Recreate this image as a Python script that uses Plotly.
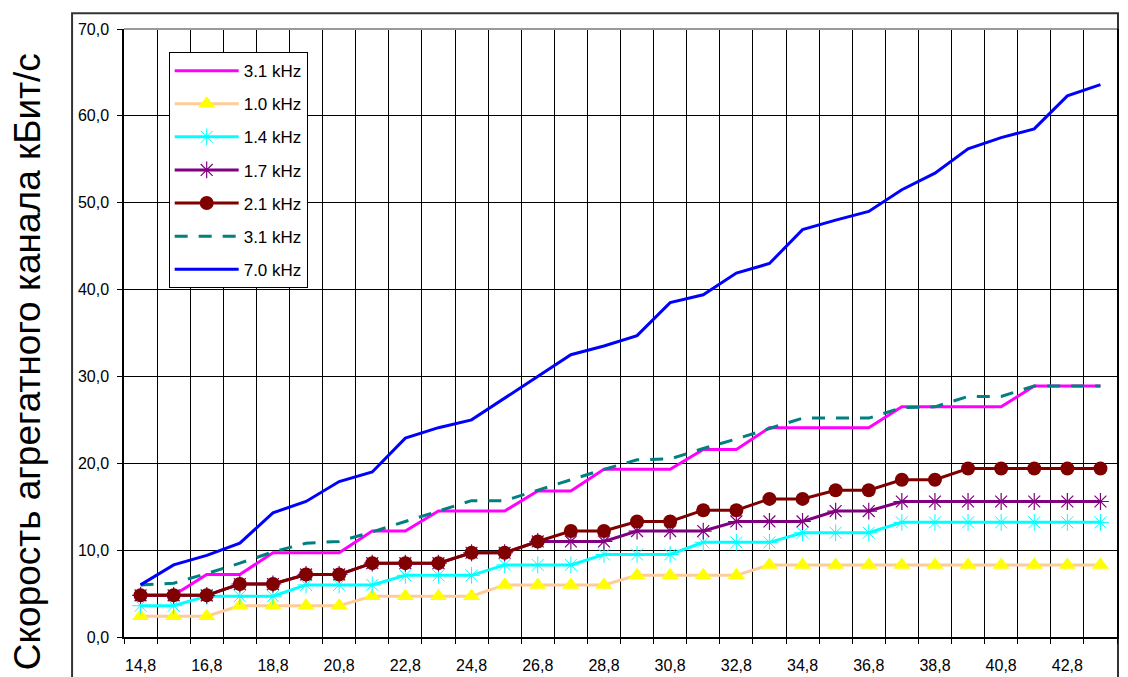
import plotly.graph_objects as go

# Частоты дискретизации (ось X), шаг 1
x_vals = [14.8, 15.8, 16.8, 17.8, 18.8, 19.8, 20.8, 21.8, 22.8, 23.8,
          24.8, 25.8, 26.8, 27.8, 28.8, 29.8, 30.8, 31.8, 32.8, 33.8,
          34.8, 35.8, 36.8, 37.8, 38.8, 39.8, 40.8, 41.8, 42.8, 43.8]

# Скорость агрегатного канала, кБит/с
s_3_1a = [4.8, 4.8, 7.2, 7.2, 9.7, 9.7, 9.7, 12.2, 12.2, 14.5,
          14.5, 14.5, 16.8, 16.8, 19.3, 19.3, 19.3, 21.6, 21.6, 24.1,
          24.1, 24.1, 24.1, 26.5, 26.5, 26.5, 26.5, 28.9, 28.9, 28.9]
s_1_0 = [2.4, 2.4, 2.4, 3.6, 3.6, 3.6, 3.6, 4.7, 4.7, 4.7,
         4.7, 6.0, 6.0, 6.0, 6.0, 7.1, 7.1, 7.1, 7.1, 8.3,
         8.3, 8.3, 8.3, 8.3, 8.3, 8.3, 8.3, 8.3, 8.3, 8.3]
s_1_4 = [3.6, 3.6, 4.7, 4.7, 4.7, 6.0, 6.0, 6.0, 7.1, 7.1,
         7.1, 8.3, 8.3, 8.3, 9.5, 9.5, 9.5, 10.9, 10.9, 10.9,
         12.0, 12.0, 12.0, 13.2, 13.2, 13.2, 13.2, 13.2, 13.2, 13.2]
s_1_7 = [4.8, 4.8, 4.8, 6.1, 6.1, 7.2, 7.2, 8.5, 8.5, 8.5,
         9.7, 9.7, 11.0, 11.0, 11.0, 12.2, 12.2, 12.2, 13.3, 13.3,
         13.3, 14.5, 14.5, 15.6, 15.6, 15.6, 15.6, 15.6, 15.6, 15.6]
s_2_1 = [4.8, 4.8, 4.8, 6.1, 6.1, 7.2, 7.2, 8.5, 8.5, 8.5,
         9.7, 9.7, 11.0, 12.2, 12.2, 13.3, 13.3, 14.6, 14.6, 15.9,
         15.9, 16.9, 16.9, 18.1, 18.1, 19.4, 19.4, 19.4, 19.4, 19.4]
s_3_1b = [6.0, 6.2, 7.3, 8.5, 9.8, 10.8, 11.0, 12.1, 13.3, 14.5,
          15.7, 15.7, 16.9, 18.1, 19.3, 20.4, 20.5, 21.7, 22.8, 24.0,
          25.2, 25.2, 25.2, 26.4, 26.5, 27.7, 27.7, 28.9, 28.9, 28.9]
s_7_0 = [6.0, 8.3, 9.4, 10.8, 14.3, 15.6, 17.9, 19.0, 22.9, 24.1,
         25.0, 27.5, 30.0, 32.5, 33.5, 34.7, 38.5, 39.4, 41.9, 43.0,
         46.9, 48.0, 49.0, 51.5, 53.4, 56.2, 57.5, 58.5, 62.3, 63.6]

FONT = "Arial, 'Liberation Sans', sans-serif"

fig = go.Figure()

series = [
    dict(name="3.1 kHz", y=s_3_1a, line=dict(color="#FF00FF", width=3), mode="lines"),
    dict(name="1.0 kHz", y=s_1_0, line=dict(color="#FFCC99", width=3), mode="lines+markers",
         marker=dict(symbol="triangle-up", size=15, color="#FFFF00", line=dict(width=0))),
    dict(name="1.4 kHz", y=s_1_4, line=dict(color="#00FFFF", width=3), mode="lines+markers",
         marker=dict(symbol="asterisk-open", size=14, color="#00FFFF",
                     line=dict(color="#00FFFF", width=1))),
    dict(name="1.7 kHz", y=s_1_7, line=dict(color="#800080", width=3), mode="lines+markers",
         marker=dict(symbol="asterisk-open", size=14, color="#800080",
                     line=dict(color="#800080", width=1.2))),
    dict(name="2.1 kHz", y=s_2_1, line=dict(color="#800000", width=3), mode="lines+markers",
         marker=dict(symbol="circle", size=14, color="#800000", line=dict(width=0))),
    dict(name="3.1 kHz", y=s_3_1b, line=dict(color="#008080", width=3, dash="13px,11px"),
         mode="lines"),
    dict(name="7.0 kHz", y=s_7_0, line=dict(color="#0000FF", width=3), mode="lines"),
]

for i, s in enumerate(series):
    fig.add_trace(go.Scatter(x=x_vals, legendgroup=f"g{i}", **s))

fig.update_layout(
    width=1128,
    height=677,
    margin=dict(l=124, r=11, t=29, b=40),
    paper_bgcolor="white",
    plot_bgcolor="white",
    separators=",.",
    font=dict(family=FONT, size=16, color="black"),
    showlegend=True,
    legend=dict(
        x=0.045, y=0.962, xanchor="left", yanchor="top",
        bgcolor="white", bordercolor="black", borderwidth=1,
        font=dict(family=FONT, size=17, color="black"),
        tracegroupgap=8, itemwidth=64,
    ),
    xaxis=dict(
        range=[14.3, 44.3], automargin=False,
        tick0=14.8, dtick=2, tickformat=".1f",
        showgrid=False, zeroline=False,
        ticks="outside", ticklen=13, tickcolor="rgba(0,0,0,0)",
        showline=True, linecolor="black", linewidth=1.5,
        tickfont=dict(family=FONT, size=16, color="black"),
        minor=dict(tick0=14.3, dtick=1, showgrid=True, gridcolor="black", gridwidth=1.3,
                   ticks="outside", ticklen=5, tickcolor="black", tickwidth=1.3),
    ),
    yaxis=dict(
        range=[0, 70], dtick=10, tickformat=".1f", automargin=False,
        showgrid=True, gridcolor="black", gridwidth=1.3, zeroline=False,
        ticks="outside", ticklen=5, tickcolor="black", tickwidth=1.3,
        showline=True, linecolor="black", linewidth=1.5, mirror=True,
        ticklabelstandoff=5,
        tickfont=dict(family=FONT, size=16, color="black"),
    ),
)

# Рамка области диаграммы и верхняя граница области построения
fig.add_shape(type="rect", xref="paper", yref="paper",
              x0=-0.0523, x1=1.001, y0=-0.12, y1=1.026,
              line=dict(color="#333333", width=2), layer="below")
fig.add_shape(type="line", xref="paper", yref="paper",
              x0=0, x1=1, y0=1, y1=1,
              line=dict(color="#9a9a9a", width=2), layer="above")

# Подпись оси Y
fig.add_annotation(
    text="Скорость агрегатного канала кБит/с",
    xref="paper", yref="paper", x=-0.0976, y=0.452,
    xanchor="center", yanchor="middle", textangle=-90, showarrow=False,
    font=dict(family=FONT, size=37, color="black"),
)

fig.write_html("out.html")
